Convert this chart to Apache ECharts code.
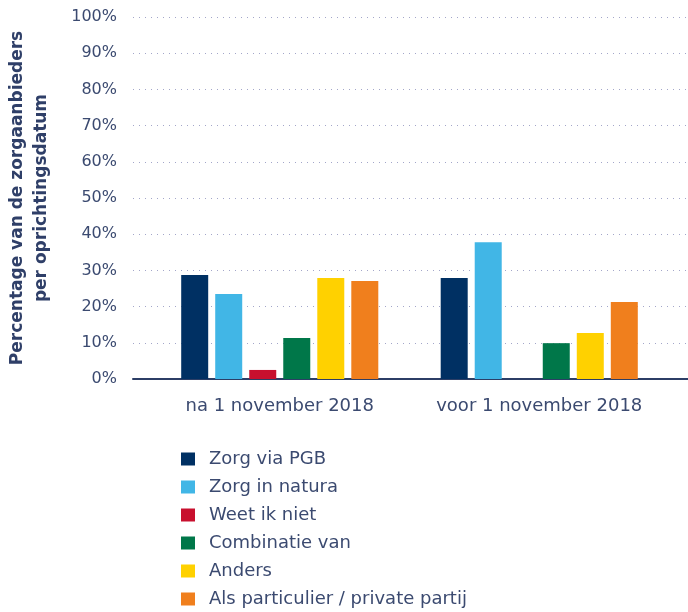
<!DOCTYPE html>
<html>
<head>
<meta charset="utf-8">
<script src="https://cdn.jsdelivr.net/npm/echarts@6/dist/echarts.min.js"></script>
<style>
  html, body { margin: 0; padding: 0; background: #fff; }
  #ch-main { width: 688px; height: 612px; }
</style>
</head>
<body>
<div id="ch-main"></div>
<script>
// categories and values
var categories = ['na 1 november 2018', 'voor 1 november 2018'];
var seriesNames = ['Zorg via PGB', 'Zorg in natura', 'Weet ik niet', 'Combinatie van', 'Anders', 'Als particulier / private partij'];
var pgb = [28.7, 27.9];
var natura = [23.5, 37.8];
var weetNiet = [2.5, 0];
var combinatie = [11.3, 9.9];
var anders = [27.9, 12.7];
var particulier = [27.1, 21.3];
var colors = ['#003063', '#41b6e6', '#c8102e', '#007749', '#ffd100', '#f07f1d'];

var textColor = '#3b4a70';
var font = 'DejaVu Sans, Verdana, sans-serif';

var myChart = echarts.init(document.getElementById('ch-main'));

var values = [pgb, natura, weetNiet, combinatie, anders, particulier];
var series = seriesNames.map(function (name, i) {
    return {
        name: name,
        type: 'bar',
        xAxisIndex: 1,
        yAxisIndex: 1,
        barWidth: 27,
        barGap: '26%',
        itemStyle: {color: colors[i]},
        data: values[i]
    };
});

var option = {
    animation: false,
    textStyle: {fontFamily: font},
    legend: {
        orient: 'vertical',
        left: 181,
        top: 450,
        padding: 0,
        icon: 'rect',
        itemWidth: 14,
        itemHeight: 13,
        itemGap: 10,
        textStyle: {color: textColor, fontSize: 18, lineHeight: 18, padding: [0, 0, 0, 9], fontFamily: font},
        data: seriesNames
    },
    grid: [
        // full-width grid: gridlines, % labels and baseline
        {left: 133, right: 0, top: 17, bottom: 233, outerBoundsMode: 'none'},
        // bar grid: the two groups
        {left: 150, right: 19, top: 17, bottom: 233, outerBoundsMode: 'none'}
    ],
    xAxis: [
        {
            gridIndex: 0, type: 'value', min: 0, max: 1,
            axisLine: {show: true, onZero: true, lineStyle: {color: '#2c3e66', width: 2}},
            axisTick: {show: false}, axisLabel: {show: false}, splitLine: {show: false}
        },
        {
            gridIndex: 1, type: 'category', data: categories,
            axisLine: {show: false}, axisTick: {show: false},
            axisLabel: {interval: 0, color: textColor, fontSize: 18, margin: 18, fontFamily: font}
        }
    ],
    yAxis: [
        {
            gridIndex: 0, type: 'value', min: 0, max: 100, interval: 10,
            name: 'Percentage van de zorgaanbieders\nper oprichtingsdatum',
            nameLocation: 'middle',
            nameGap: 79,
            nameTextStyle: {color: '#2f3f68', fontSize: 17, fontWeight: 'bold', lineHeight: 24, fontFamily: font},
            axisLine: {show: false}, axisTick: {show: false},
            axisLabel: {formatter: '{value}%', color: textColor, fontSize: 16, margin: 16, fontFamily: font},
            splitLine: {lineStyle: {color: '#a3a6c9', type: [1, 5], width: 1}}
        },
        {
            gridIndex: 1, type: 'value', min: 0, max: 100,
            show: false, splitLine: {show: false}
        }
    ],
    series: series
};

myChart.setOption(option);
</script>
</body>
</html>
